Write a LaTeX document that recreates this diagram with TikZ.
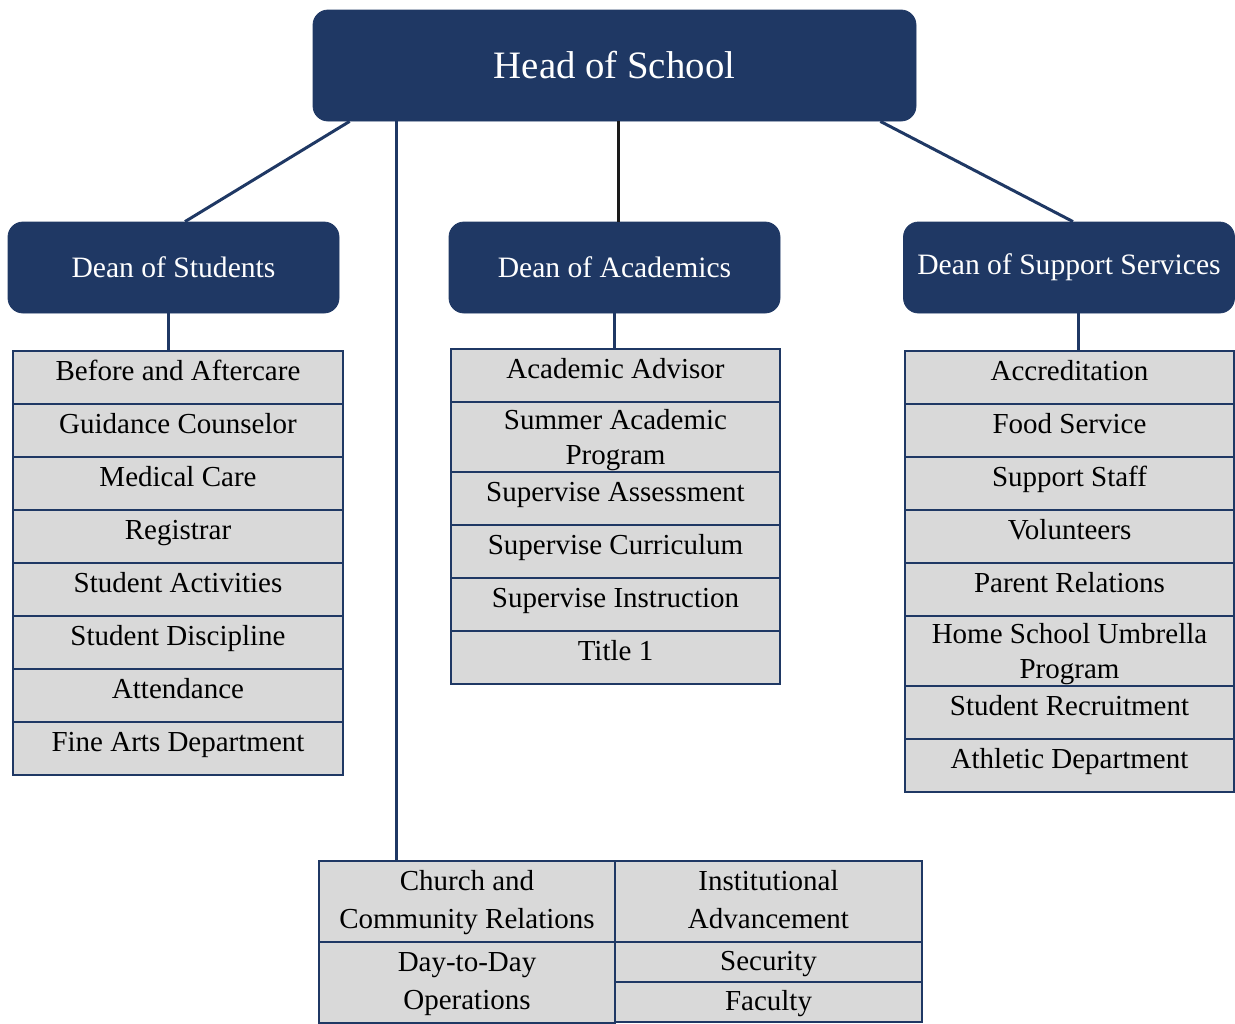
\documentclass[tikz,border=0pt]{standalone}
\usepackage{fontspec}
\setmainfont{Liberation Serif}
\usepackage{xcolor}
\definecolor{vnavy}{HTML}{1F3864}
\definecolor{vgray}{HTML}{D9D9D9}
\definecolor{vblack}{HTML}{1A1A1A}

\begin{document}
\begin{tikzpicture}[x=0.5pt, y=-0.5pt,
	dean/.style={draw=vnavy, fill=vnavy, rounded corners=7.5pt, text=white, inner sep=0pt, minimum width=165.5pt, minimum height=45.5pt, font=\fontsize{14.8}{17}\selectfont},
	cell/.style={draw=vnavy, line width=0.75pt, fill=vgray, anchor=north, inner sep=0pt, minimum width=165pt, minimum height=26.5pt, text height=15pt, text depth=11.5pt, font=\fontsize{14.5}{17.5}\selectfont},
	tallcell/.style={cell, minimum height=35pt, text height=14pt, text depth=21pt},
	link/.style={draw=vnavy, line width=1.5pt}]
	\useasboundingbox (0,0) rectangle (1235,1023);
	% head and deans
	\node[dean, minimum width=301.5pt, minimum height=55.5pt, font=\fontsize{19.4}{23}\selectfont] (head) at (614.5,65.5) {Head of School};
	\node[dean] (dstu) at (173.5,267.5) {Dean of Students};
	\node[dean] (dacad) at (614.5,267.5) {Dean of Academics};
	\node[dean] (dsupp) at (1069,267.5) {Dean of Support Services};
	% students
	\node[cell] (s1) at (178,350) {Before and Aftercare};
	\node[cell] (s2) at (178,403) {Guidance Counselor};
	\node[cell] (s3) at (178,456) {Medical Care};
	\node[cell] (s4) at (178,509) {Registrar};
	\node[cell] (s5) at (178,562) {Student Activities};
	\node[cell] (s6) at (178,615) {Student Discipline};
	\node[cell] (s7) at (178,668) {Attendance};
	\node[cell] (s8) at (178,721) {Fine Arts Department};
	% academics
	\node[cell, minimum width=164.5pt] (a1) at (615.5,348) {Academic Advisor};
	\node[tallcell, minimum width=164.5pt] (a2) at (615.5,401) {\begin{tabular}[t]{@{}c@{}}Summer Academic\\Program\end{tabular}};
	\node[cell, minimum width=164.5pt] (a3) at (615.5,471) {Supervise Assessment};
	\node[cell, minimum width=164.5pt] (a4) at (615.5,524) {Supervise Curriculum};
	\node[cell, minimum width=164.5pt] (a5) at (615.5,577) {Supervise Instruction};
	\node[cell, minimum width=164.5pt] (a6) at (615.5,630) {Title 1};
	% support services
	\node[cell, minimum width=164.5pt] (p1) at (1069.5,350) {Accreditation};
	\node[cell, minimum width=164.5pt] (p2) at (1069.5,403) {Food Service};
	\node[cell, minimum width=164.5pt] (p3) at (1069.5,456) {Support Staff};
	\node[cell, minimum width=164.5pt] (p4) at (1069.5,509) {Volunteers};
	\node[cell, minimum width=164.5pt] (p5) at (1069.5,562) {Parent Relations};
	\node[tallcell, minimum width=164.5pt] (p6) at (1069.5,615) {\begin{tabular}[t]{@{}c@{}}Home School Umbrella\\Program\end{tabular}};
	\node[cell, minimum width=164.5pt] (p7) at (1069.5,685) {Student Recruitment};
	\node[cell, minimum width=164.5pt] (p8) at (1069.5,738) {Athletic Department};
	% head office table
	\node[cell, minimum width=148pt, minimum height=40.5pt, text depth=25.5pt, font=\fontsize{14.5}{19}\selectfont] (church) at (467,860) {\begin{tabular}[t]{@{}c@{}}Church and\\Community Relations\end{tabular}};
	\node[cell, minimum width=148pt, minimum height=40.5pt, text depth=25.5pt, font=\fontsize{14.5}{19}\selectfont] (daily) at (467,941) {\begin{tabular}[t]{@{}c@{}}Day-to-Day\\Operations\end{tabular}};
	\node[cell, minimum width=153.5pt, minimum height=40.5pt, text depth=25.5pt, font=\fontsize{14.5}{19}\selectfont] (advance) at (768.5,860) {\begin{tabular}[t]{@{}c@{}}Institutional\\Advancement\end{tabular}};
	\node[cell, minimum width=153.5pt, minimum height=20pt, text height=14.5pt, text depth=5.5pt] (security) at (768.5,941) {Security};
	\node[cell, minimum width=153.5pt, minimum height=20pt, text height=14.5pt, text depth=5.5pt] (faculty) at (768.5,981) {Faculty};
	% links
	\draw[link] ([xshift=18.5pt]head.south west) -- ([xshift=5.75pt]dstu.north);
	\draw[link, draw=vblack] ([xshift=1.75pt]head.south) -- ([xshift=1.75pt]dacad.north);
	\draw[link] ([xshift=-18pt]head.south east) -- ([xshift=2pt]dsupp.north);
	\draw[link] ([xshift=42pt]head.south west) -- ([xshift=42pt]head.south west |- church.north);
	\draw[link] ([xshift=-2.75pt]dstu.south) -- ([xshift=-2.75pt]dstu.south |- s1.north);
	\draw[link] (dacad.south) -- (dacad.south |- a1.north);
	\draw[link] ([xshift=4.5pt]dsupp.south) -- ([xshift=4.5pt]dsupp.south |- p1.north);
\end{tikzpicture}
\end{document}
